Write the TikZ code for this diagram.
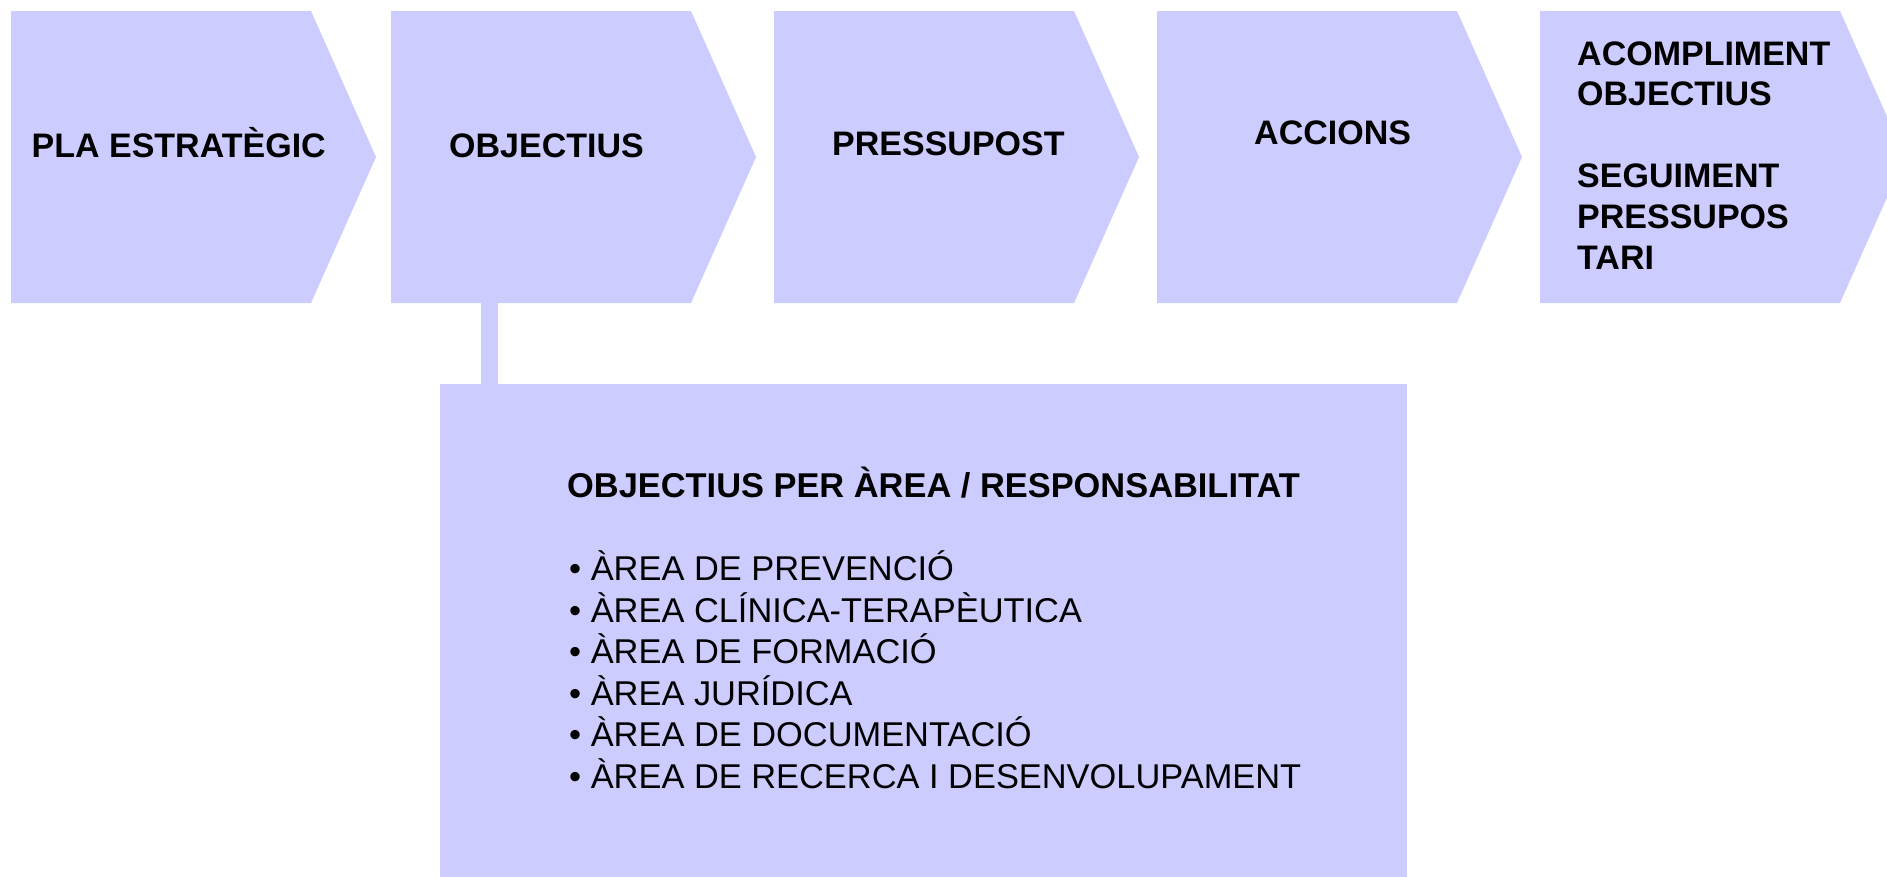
\documentclass[tikz,border=0pt]{standalone}
\usepackage{fontspec}
\setmainfont{Liberation Sans}
\definecolor{lav}{RGB}{204,204,255}
\tikzset{
  chev/.style={fill=lav, draw=none},
  boldtxt/.style={anchor=base west, inner sep=0pt, font=\fontsize{34}{41}\selectfont\bfseries},
  pboldtxt/.style={anchor=base west, inner sep=0pt, font=\fontsize{34.4}{41}\selectfont\bfseries},
  regtxt/.style={anchor=base west, inner sep=0pt, font=\fontsize{34.4}{41}\selectfont},
  panel/.style={fill=lav, draw=none, inner sep=0pt, anchor=north west},
}
\begin{document}
\begin{tikzpicture}[x=1pt,y=-1pt]
\useasboundingbox (0,0) rectangle (1887,876);
% chevrons
\foreach \L/\n in {11/c1,391/c2,774/c3,1157/c4,1540/c5}{
  \fill[chev] (\L,11) -- ++(300,0) -- ++(65,146) -- ++(-65,146) -- ++(-300,0) -- cycle;
  \coordinate (\n) at (\L,11);
}
% bottom panel
\node[panel, minimum width=967pt, minimum height=500pt] (box) at (440,384) {};
% connector bar
\coordinate (barTop) at (481,303);
\coordinate (barBot) at (498,385);
\fill[lav] (barTop) rectangle (barBot);
% chevron texts
\node[boldtxt] (t1) at (31.5,157) {PLA ESTRATÈGIC};
\node[boldtxt] (t2) at (449,157) {OBJECTIUS};
\node[boldtxt] (t3) at (832,155) {PRESSUPOST};
\node[boldtxt] (t4) at (1254,144) {ACCIONS};
\node[boldtxt] (t5a) at (1577,65) {ACOMPLIMENT};
\node[boldtxt] (t5b) at (1577,105) {OBJECTIUS};
\node[boldtxt] (t5c) at (1577,187) {SEGUIMENT};
\node[boldtxt] (t5d) at (1577,228) {PRESSUPOS};
\node[boldtxt] (t5e) at (1577,269) {TARI};
% panel texts
\node[pboldtxt] (ptitle) at (567,497) {OBJECTIUS PER ÀREA / RESPONSABILITAT};
\node[regtxt] (b1) at (569,580.7) {• ÀREA DE PREVENCIÓ};
\node[regtxt] (b2) at (569,622.2) {• ÀREA CLÍNICA-TERAPÈUTICA};
\node[regtxt] (b3) at (569,663.7) {• ÀREA DE FORMACIÓ};
\node[regtxt] (b4) at (569,705.2) {• ÀREA JURÍDICA};
\node[regtxt] (b5) at (569,746.7) {• ÀREA DE DOCUMENTACIÓ};
\node[regtxt] (b6) at (569,788.2) {• ÀREA DE RECERCA I DESENVOLUPAMENT};
\end{tikzpicture}
\end{document}
